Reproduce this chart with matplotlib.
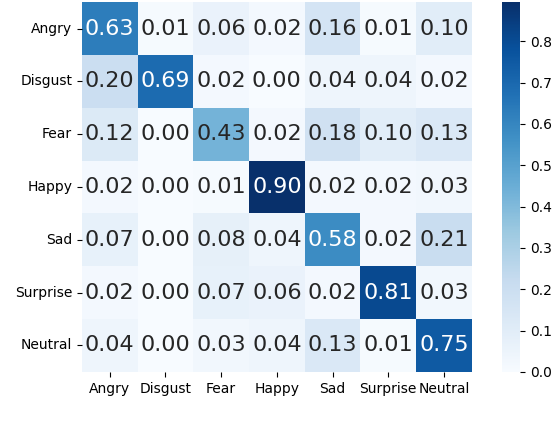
import numpy as np
import matplotlib
matplotlib.use("Agg")
import matplotlib.pyplot as plt
import seaborn as sns

labels = ['Angry', 'Disgust', 'Fear', 'Happy', 'Sad', 'Surprise', 'Neutral']

angry = [0.63, 0.01, 0.06, 0.02, 0.16, 0.01, 0.10]
disgust = [0.20, 0.69, 0.02, 0.00, 0.04, 0.04, 0.02]
fear = [0.12, 0.00, 0.43, 0.02, 0.18, 0.10, 0.13]
happy = [0.02, 0.00, 0.01, 0.90, 0.02, 0.02, 0.03]
sad = [0.07, 0.00, 0.08, 0.04, 0.58, 0.02, 0.21]
surprise = [0.02, 0.00, 0.07, 0.06, 0.02, 0.81, 0.03]
neutral = [0.04, 0.00, 0.03, 0.04, 0.13, 0.01, 0.75]

cm = np.array([angry, disgust, fear, happy, sad, surprise, neutral])

fig = plt.figure(figsize=(5.57, 4.24), dpi=100)
ax = fig.add_axes([0.147, 0.123, 0.70, 0.872])
cax = fig.add_axes([0.901, 0.123, 0.033, 0.872])

# colour range tops out just under 0.9 in the original
sns.heatmap(cm, annot=True, fmt='.2f', cmap='Blues', vmin=0, vmax=0.895,
            annot_kws={'size': 16},
            xticklabels=labels, yticklabels=labels, ax=ax, cbar_ax=cax)
ax.tick_params(axis='y', rotation=0)

fig.savefig("out.png", dpi=100)
